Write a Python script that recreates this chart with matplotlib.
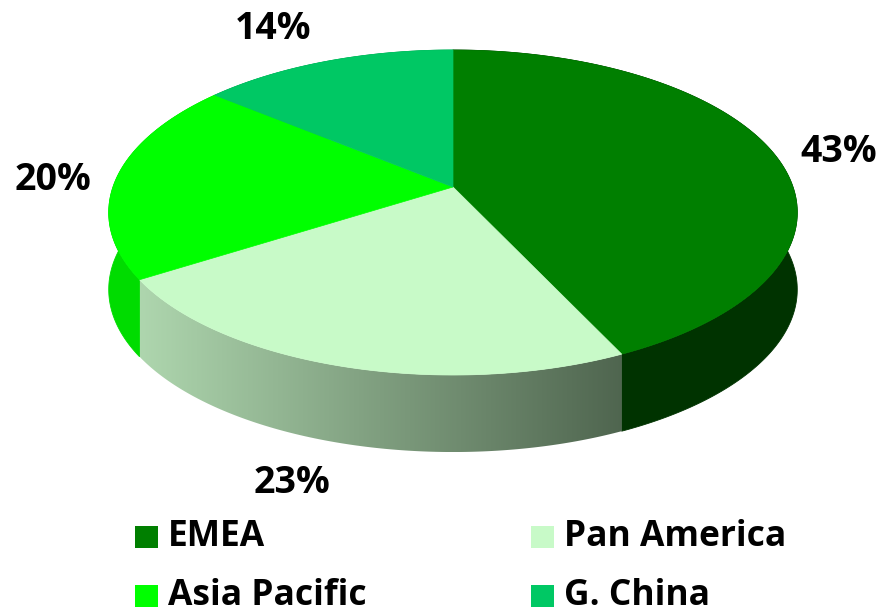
import numpy as np
import matplotlib.pyplot as plt
from matplotlib.patches import Polygon, Rectangle
from matplotlib.colors import LinearSegmentedColormap

# dados
regions = ['EMEA', 'Pan America', 'Asia Pacific', 'G. China']
shares = [43, 23, 20, 14]
top_colors = ['#007f00', '#c8fac8', '#00ff00', '#00c864']
side_colors = ['#003300', None, '#00dc00', '#009a4c']

# geometria da pizza 3D (pixels)
CX = 453
RX = 340
DEPTH = 77
A, B, C = -129.15, 187.0, 0.157   # projeção em perspectiva do eixo vertical

# posições dos rótulos e da legenda (layout)
label_pos = [(839, 152), (292, 483), (53, 180), (273, 29)]
legend_pos = [(135, 537), (531, 537), (135, 596), (531, 596)]

FONT = ['Open Sans', 'Lato', 'DejaVu Sans']


def proj(theta, dy=0.0):
    """theta em graus, sentido horário a partir do topo"""
    t = np.radians(theta)
    v = np.cos(t)
    den = C * v + 1
    x = CX + RX * np.sin(t) / den
    y = (A * v + B) / den + dy
    return x, y


fig = plt.figure(figsize=(8.83, 6.11), dpi=100)
ax = fig.add_axes([0, 0, 1, 1])
ax.set_xlim(0, 883)
ax.set_ylim(611, 0)
ax.axis('off')

bounds = np.concatenate([[0], np.cumsum(shares)]) / sum(shares) * 360

for i in range(len(shares)):
    th = np.linspace(bounds[i], bounds[i + 1], 200)
    xt, yt = proj(th)
    xb, yb = proj(th, DEPTH)
    # lateral
    wall = np.column_stack([np.concatenate([xt, xb[::-1]]),
                            np.concatenate([yt, yb[::-1]])])
    if side_colors[i] is None:
        poly = Polygon(wall, closed=True, facecolor='none', edgecolor='none')
        ax.add_patch(poly)
        cmap = LinearSegmentedColormap.from_list('g', ['#aed6ae', '#4f654f'])
        grad = np.linspace(0, 1, 256).reshape(1, -1)
        im = ax.imshow(grad, cmap=cmap, aspect='auto',
                       extent=[xt.min(), xt.max() + 1, yb.max(), yt.min()], zorder=1)
        im.set_clip_path(poly)
    else:
        ax.add_patch(Polygon(wall, closed=True, facecolor=side_colors[i],
                             edgecolor=side_colors[i], lw=0.6, zorder=1))
    # topo
    top = np.column_stack([np.concatenate([[CX], xt]),
                           np.concatenate([[B], yt])])
    ax.add_patch(Polygon(top, closed=True, facecolor=top_colors[i],
                         edgecolor=top_colors[i], lw=0.5, zorder=3))

    ax.text(label_pos[i][0], label_pos[i][1], f'{shares[i]}%', fontsize=27,
            fontweight='bold', family=FONT, ha='center', va='center',
            zorder=5)

# legenda
for i, name in enumerate(regions):
    lx, ly = legend_pos[i]
    ax.add_patch(Rectangle((lx, ly - 11), 23, 22, facecolor=top_colors[i],
                           edgecolor='none'))
    ax.text(lx + 33, ly, name, fontsize=25.5, fontweight='bold',
            family=FONT, ha='left', va='center')

plt.savefig('out.png', dpi=100)
